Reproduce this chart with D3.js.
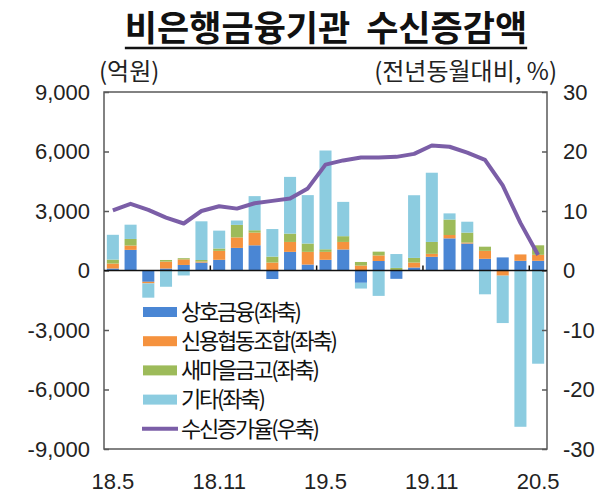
<!DOCTYPE html>
<html>
<head>
<meta charset="utf-8">
<script src="https://cdn.jsdelivr.net/npm/d3@7"></script>
<style>
  body { margin: 0; background: #fff; }
  svg { display: block; font-family: "Noto Sans CJK KR", "Noto Sans", sans-serif; }
</style>
</head>
<body>
<div id="chart"></div>
<script>
// monthly categories 18.5 ~ 20.5
const months = ["18.5","18.6","18.7","18.8","18.9","18.10","18.11","18.12",
                "19.1","19.2","19.3","19.4","19.5","19.6","19.7","19.8","19.9","19.10","19.11","19.12",
                "20.1","20.2","20.3","20.4","20.5"];
const tickMonths = ["18.5","18.11","19.5","19.11","20.5"];

// 억원
const mutual  = [100, 1040, -570, 100, 280, 400, 540, 1140, 1270, -430, 940, 300, 540, 1060, -620, 480, -420, 150, 690, 1620, 1360, 590, 660, 490, 490];
const credit  = [250, 220, -80, 350, 280, 50, 450, 530, 640, 400, 500, 640, 400, 380, 250, 280, 30, 250, 150, 170, 50, 400, -260, 320, 300];
const saemaul = [200, 330, 0, 80, 60, 80, 120, 630, 120, 300, 420, 420, 130, 290, 180, 190, 100, 235, 600, 780, 500, 210, 0, 0, 480];
const others  = [1250, 720, -720, -820, -250, 1950, 900, 220, 1720, 1390, 2860, 2440, 4980, 1730, -290, -1280, 700, 3160, 3490, 310, 550, -1200, -2390, -7880, -4700];
// 전년동월대비 %
const growth  = [10.1, 11.2, 10.2, 8.9, 7.9, 10.0, 10.8, 10.4, 11.3, 11.7, 12.1, 13.8, 17.8, 18.5, 19.0, 19.0, 19.1, 19.6, 21.0, 20.8, 19.8, 18.6, 14.3, 8.0, 2.6];

const leftTicks = [-9000, -6000, -3000, 0, 3000, 6000, 9000];
const rightTicks = [-30, -20, -10, 0, 10, 20, 30];

const seriesNames = ["상호금융(좌축)", "신용협동조합(좌축)", "새마을금고(좌축)", "기타(좌축)"];
const lineName = "수신증가율(우축)";
const colors = ["#4a86d4", "#f5923e", "#9dbb5a", "#8ccce0"];
const lineColor = "#7b5ea7";

const width = 615, height = 495;
const plot = {left: 104, right: 547, top: 92, bottom: 449};

const keys = ["mutual", "credit", "saemaul", "others"];
const table = months.map((m, i) => ({
    month: m, mutual: mutual[i], credit: credit[i], saemaul: saemaul[i], others: others[i], growth: growth[i]
}));

const x = d3.scaleBand(months, [plot.left, plot.right]).paddingInner(0.32).paddingOuter(0.16);
const y = d3.scaleLinear([-9000, 9000], [plot.bottom, plot.top]);
const y2 = d3.scaleLinear([-30, 30], [plot.bottom, plot.top]);

const stack = d3.stack().keys(keys).offset(d3.stackOffsetDiverging);
const layers = stack(table);

const svg = d3.select("#chart").append("svg")
    .attr("width", width)
    .attr("height", height)
    .attr("viewBox", [0, 0, width, height]);

// title (keep the double space)
const title = svg.append("text")
    .attr("x", 326).attr("y", 41)
    .attr("text-anchor", "middle")
    .attr("font-size", 35)
    .attr("font-weight", 700)
    .attr("fill", "#111")
    .style("white-space", "pre")
    .text("비은행금융기관  수신증감액");
const tb = title.node().getBBox();
svg.append("line")
    .attr("x1", tb.x).attr("x2", tb.x + tb.width)
    .attr("y1", 48).attr("y2", 48)
    .attr("stroke", "#111").attr("stroke-width", 2.5);

// unit labels
svg.append("text").attr("x", 99).attr("y", 80)
    .attr("font-size", 24).attr("fill", "#222").text("(억원)");
svg.append("text").attr("x", 557).attr("y", 80)
    .attr("text-anchor", "end")
    .attr("font-size", 24).attr("fill", "#222").text("(전년동월대비, %)");

// bars
svg.append("g").selectAll("g")
    .data(layers)
    .join("g")
    .attr("fill", (d, i) => colors[i])
    .selectAll("rect")
    .data(d => d)
    .join("rect")
    .attr("x", d => x(d.data.month))
    .attr("width", x.bandwidth())
    .attr("y", d => y(Math.max(d[0], d[1])))
    .attr("height", d => Math.abs(y(d[0]) - y(d[1])));

// frame
svg.append("rect")
    .attr("x", plot.left).attr("y", plot.top)
    .attr("width", plot.right - plot.left).attr("height", plot.bottom - plot.top)
    .attr("fill", "none").attr("stroke", "#595959").attr("stroke-width", 1.5);

const fmt = d => d3.format(",")(d).replace("−", "-");

// left axis
const gl = svg.append("g")
    .attr("transform", `translate(${plot.left},0)`)
    .call(d3.axisLeft(y).tickValues(leftTicks).tickFormat(fmt).tickSize(-5).tickSizeOuter(0).tickPadding(14));
// right axis
const gr = svg.append("g")
    .attr("transform", `translate(${plot.right},0)`)
    .call(d3.axisRight(y2).tickValues(rightTicks).tickFormat(fmt).tickSize(-5).tickSizeOuter(0).tickPadding(16));
[gl, gr].forEach(g => {
    g.select(".domain").remove();
    g.selectAll("line").attr("stroke", "#595959").attr("stroke-width", 1.5);
    g.selectAll("text").attr("font-size", 22).attr("fill", "#222").attr("font-family", "inherit");
});

// zero line + category ticks
svg.append("line")
    .attr("x1", plot.left).attr("x2", plot.right)
    .attr("y1", y(0)).attr("y2", y(0))
    .attr("stroke", "#111").attr("stroke-width", 1.5);
svg.append("g").selectAll("line")
    .data(tickMonths.slice(1))
    .join("line")
    .attr("x1", d => x(d) - x.step() * x.paddingInner() / 2)
    .attr("x2", d => x(d) - x.step() * x.paddingInner() / 2)
    .attr("y1", y(0)).attr("y2", y(0) - 5)
    .attr("stroke", "#111").attr("stroke-width", 1.5);

// x labels
svg.append("g")
    .attr("transform", `translate(0,${plot.bottom})`)
    .call(d3.axisBottom(x).tickValues(tickMonths).tickSize(0).tickPadding(24))
    .call(g => g.select(".domain").remove())
    .selectAll("text").attr("font-size", 22).attr("fill", "#222").attr("font-family", "inherit");

// growth line
const line = d3.line()
    .x(d => x(d.month) + x.bandwidth() / 2)
    .y(d => y2(d.growth));
svg.append("path")
    .datum(table)
    .attr("fill", "none")
    .attr("stroke", lineColor)
    .attr("stroke-width", 4)
    .attr("stroke-linejoin", "round")
    .attr("d", line);

// legend
const legendY = [312, 341.2, 370.4, 399.6, 428.8];
const legend = svg.append("g").attr("font-size", 22).attr("fill", "#111");
seriesNames.forEach((name, i) => {
    legend.append("rect")
        .attr("x", 143).attr("y", legendY[i] - 5)
        .attr("width", 34).attr("height", 10)
        .attr("fill", colors[i]);
    legend.append("text")
        .attr("x", 181).attr("y", legendY[i])
        .attr("dy", "0.35em")
        .attr("letter-spacing", -2.2)
        .text(name);
});
legend.append("line")
    .attr("x1", 142).attr("x2", 178)
    .attr("y1", legendY[4]).attr("y2", legendY[4])
    .attr("stroke", lineColor).attr("stroke-width", 4);
legend.append("text")
    .attr("x", 181).attr("y", legendY[4])
    .attr("dy", "0.35em")
    .attr("letter-spacing", -2.2)
    .text(lineName);
</script>
</body>
</html>
